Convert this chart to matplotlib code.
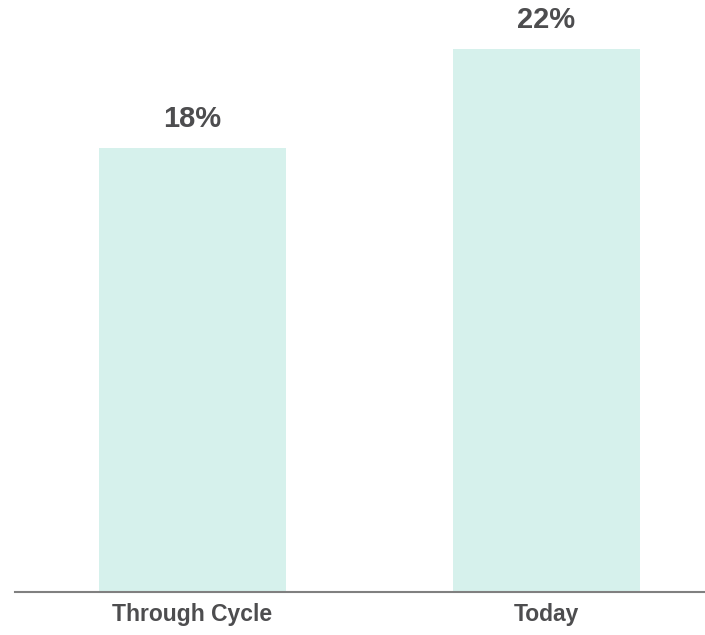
import matplotlib.pyplot as plt

categories = ['Through Cycle', 'Today']
values = [18, 22]
labels = ['18%', '22%']


def main():
    plt.rcParams['font.family'] = ['Liberation Sans', 'DejaVu Sans']
    fig = plt.figure(figsize=(7.05, 6.35), dpi=100)
    ax = fig.add_axes([15 / 705, 43 / 635, 690 / 705, 592 / 635])
    x = list(range(len(categories)))
    ax.bar(x, values, width=0.528, color='#d6f1ec')
    for xi, v, lab in zip(x, values, labels):
        ax.annotate(lab, (xi, v), xytext=(0, 15), textcoords='offset points',
                    ha='center', va='baseline', fontsize=21, fontweight='bold',
                    color='#4d4d4f', annotation_clip=False)
    ax.set_xlim(-0.501, 1.448)
    ax.set_ylim(0, 24)
    ax.set_xticks(x)
    ax.set_xticklabels(categories, fontsize=16.5, fontweight='bold', color='#4d4d4f')
    ax.tick_params(axis='x', length=0, pad=8)
    ax.set_yticks([])
    for s in ['top', 'right', 'left']:
        ax.spines[s].set_visible(False)
    ax.spines['bottom'].set_color('#808080')
    ax.spines['bottom'].set_linewidth(1.5)
    fig.savefig('out.png')


if __name__ == '__main__':
    main()
